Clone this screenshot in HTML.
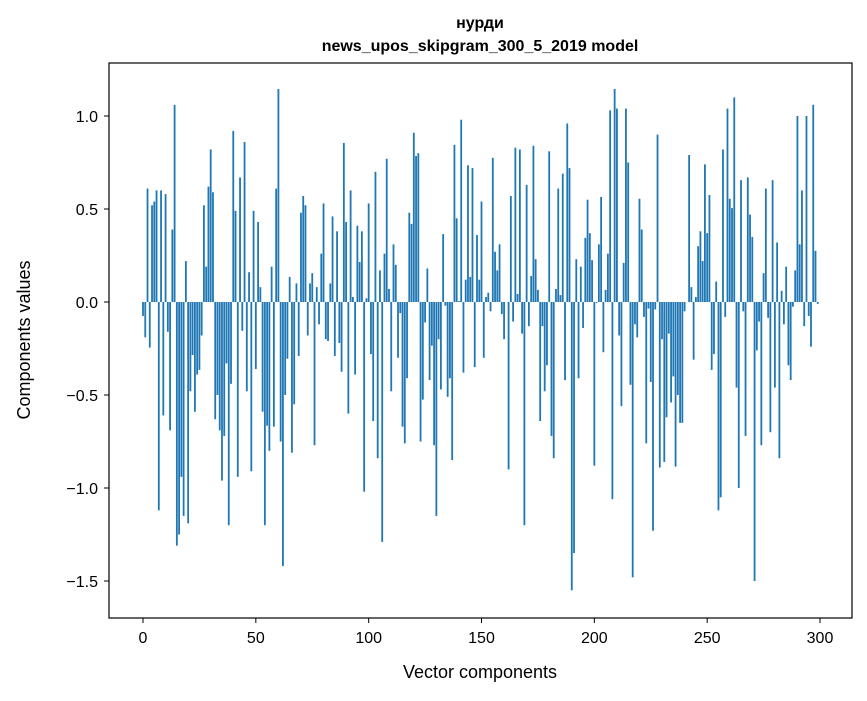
<!DOCTYPE html>
<html><head><meta charset="utf-8"><style>
body{margin:0;background:#fff}
svg text{font-family:"Liberation Sans","DejaVu Sans",sans-serif;fill:#000}
</style></head><body>
<svg id="chart" width="867" height="696" xmlns="http://www.w3.org/2000/svg">
<rect width="867" height="696" fill="#fff"/>
<text x="480" y="28" text-anchor="middle" font-size="16" font-weight="bold">нурди</text>
<text x="480" y="51" text-anchor="middle" font-size="16" font-weight="bold">news_upos_skipgram_300_5_2019 model</text>
<g id="bars"></g>
<rect x="109" y="63" width="743" height="555" fill="none" stroke="#000" stroke-width="1.2"/>
<g id="xaxis"></g>
<g id="yaxis"></g>
<text x="480" y="678" text-anchor="middle" font-size="18">Vector components</text>
<text transform="translate(30,340) rotate(-90)" text-anchor="middle" font-size="18">Components values</text>
</svg>
<script>
const values = [
-0.075,-0.19,0.61,-0.245,0.52,0.54,0.6,-1.12,0.6,-0.61,
0.58,-0.16,-0.69,0.39,1.06,-1.31,-1.25,-0.94,-1.15,0.22,
-1.19,-0.48,-0.285,-0.59,-0.39,-0.365,-0.18,0.52,0.19,0.62,
0.82,0.59,-0.63,-0.5,-0.69,-0.96,-0.72,-0.33,-1.2,-0.44,
0.92,0.49,-0.94,0.67,-0.155,0.86,-0.48,0.16,-0.91,0.49,
-0.36,0.43,0.08,-0.59,-1.2,-0.665,-0.8,0.19,-0.67,0.61,
1.145,-0.75,-1.42,-0.5,-0.305,0.135,-0.81,-0.55,0.1,-0.29,
0.48,0.57,0.52,-0.18,0.1,0.155,-0.77,0.08,-0.12,0.26,
0.53,-0.2,-0.21,0.1,0.46,-0.29,0.38,-0.22,-0.375,0.855,
0.43,-0.6,0.6,0.027,-0.39,0.41,0.215,0.38,-1.02,0.02,
0.53,-0.28,-0.64,0.7,-0.84,0.17,-1.29,0.26,0.77,0.07,
-0.48,0.31,0.2,-0.3,-0.06,-0.67,-0.76,-0.41,0.48,0.42,
0.91,0.785,0.8,-0.75,-0.525,-0.11,0.18,-0.42,-0.235,-0.77,
-1.15,-0.2,-0.47,0.365,-0.02,-0.51,-0.41,-0.85,0.845,0.45,
0.005,0.98,-0.38,0.12,0.735,0.135,0.72,-0.35,0.36,0.12,
0.54,-0.3,0.027,0.05,-0.05,0.775,0.27,0.17,0.31,-0.065,
-0.2,0.0,-0.9,0.57,-0.105,0.83,0.043,0.82,-0.17,-1.2,
0.63,-0.13,0.14,0.84,0.23,0.065,-0.64,-0.13,-0.48,-0.34,
0.81,-0.72,-0.84,0.07,0.61,0.037,0.69,-0.42,0.96,0.72,
-1.55,-1.35,0.23,-0.41,0.19,-0.14,0.345,0.55,0.37,0.225,
-0.88,-0.004,0.31,0.565,-0.27,0.065,0.26,1.03,-1.06,1.145,
1.04,-0.18,-0.56,0.21,1.04,0.75,-0.445,-1.48,-0.12,-0.19,
0.555,0.39,-0.08,-0.76,-0.035,-0.43,-1.23,-0.04,0.9,-0.89,
-0.2,-0.86,-0.62,-0.17,-0.54,-0.4,-0.885,-0.5,-0.65,-0.65,
-0.05,0.0,0.79,0.08,-0.31,0.027,0.3,0.38,0.22,0.74,
0.37,0.575,-0.365,-0.28,0.11,-1.12,-1.05,0.82,-0.08,1.04,
0.555,0.505,1.1,-0.46,-1.0,0.655,-0.05,-0.72,0.67,0.47,
0.35,-1.5,-0.26,-0.105,-0.77,0.155,0.61,-0.085,-0.7,0.655,
-0.46,0.32,-0.84,0.06,-0.12,0.19,-0.34,-0.42,-0.025,0.17,
1.0,0.31,0.6,-0.13,1.0,-0.075,-0.24,1.06,0.275,-0.01
];
const xTicks = [0,50,100,150,200,250,300];
const yTicks = [-1.5,-1.0,-0.5,0.0,0.5,1.0];
const yTickLabels = ["−1.5","−1.0","−0.5","0.0","0.5","1.0"];

const NS="http://www.w3.org/2000/svg";
const xs = v => 143 + v*2.2567;
const ys = v => 302 - v*186;
const bw = 0.8*2.2567;
const bars=document.getElementById('bars');
values.forEach((v,i)=>{
  const r=document.createElementNS(NS,'rect');
  r.setAttribute('x',xs(i)-bw/2);
  r.setAttribute('y',Math.min(ys(v),ys(0)));
  r.setAttribute('width',bw);
  r.setAttribute('height',Math.abs(ys(v)-ys(0)));
  r.setAttribute('fill','#1f77b4');
  
  
  bars.appendChild(r);
});
const xa=document.getElementById('xaxis');
xTicks.forEach(t=>{
  const l=document.createElementNS(NS,'line');
  l.setAttribute('x1',xs(t));l.setAttribute('x2',xs(t));
  l.setAttribute('y1',618);l.setAttribute('y2',623);
  l.setAttribute('stroke','#000');
  
  
  xa.appendChild(l);
  const tx=document.createElementNS(NS,'text');
  tx.setAttribute('x',xs(t));tx.setAttribute('y',643);
  tx.setAttribute('text-anchor','middle');tx.setAttribute('font-size','16');
  tx.textContent=t;
  
  
  xa.appendChild(tx);
});
const ya=document.getElementById('yaxis');
yTicks.forEach((t,i)=>{
  const l=document.createElementNS(NS,'line');
  l.setAttribute('x1',104);l.setAttribute('x2',109);
  l.setAttribute('y1',ys(t));l.setAttribute('y2',ys(t));
  l.setAttribute('stroke','#000');
  
  
  ya.appendChild(l);
  const tx=document.createElementNS(NS,'text');
  tx.setAttribute('x',98);tx.setAttribute('y',ys(t)+6);
  tx.setAttribute('text-anchor','end');tx.setAttribute('font-size','16');
  tx.textContent=yTickLabels[i];
  
  
  ya.appendChild(tx);
});
</script>
</body></html>
